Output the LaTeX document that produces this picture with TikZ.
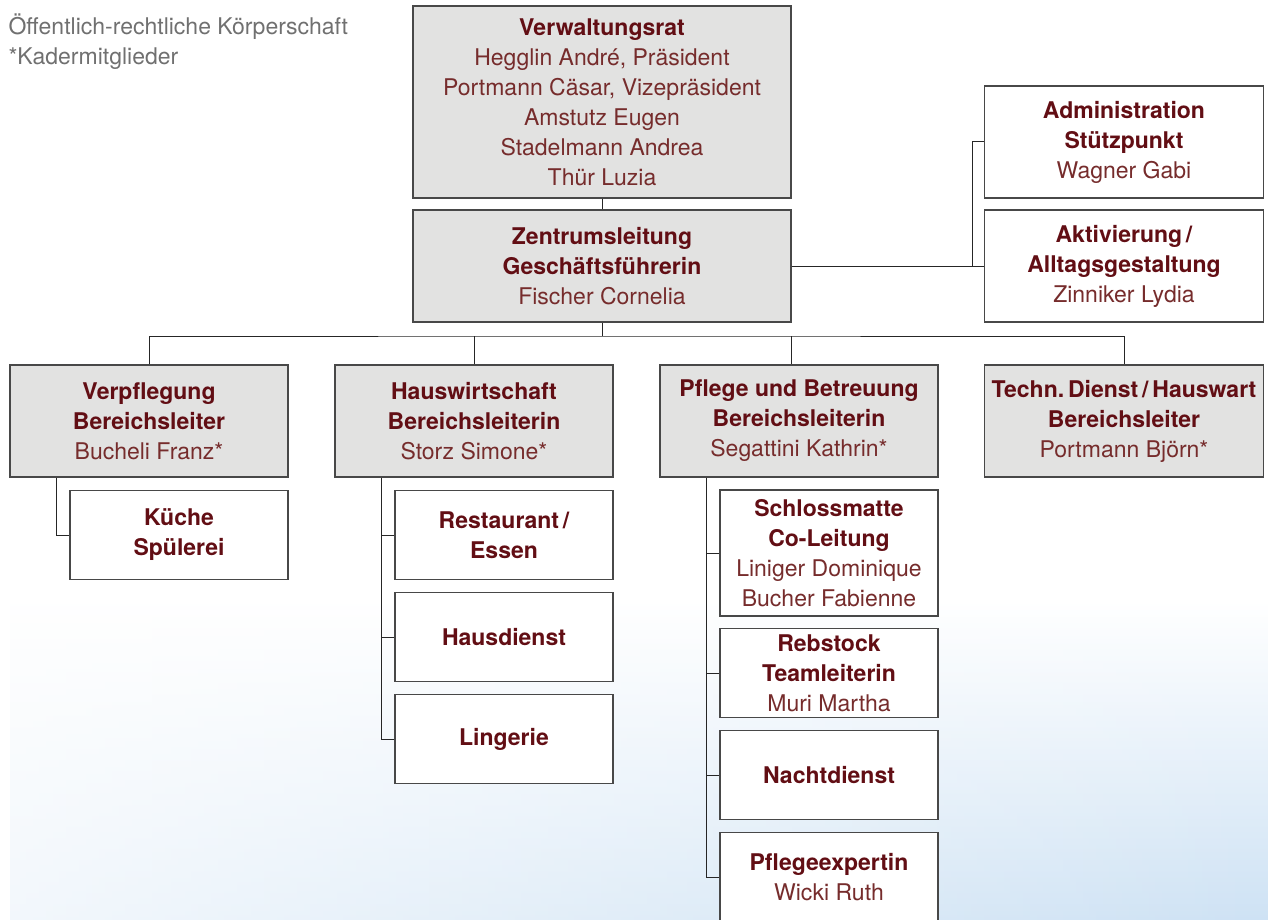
\documentclass[tikz,border=0pt]{standalone}
\usepackage{fontspec}
\setmainfont{TeX Gyre Heros}
\usetikzlibrary{calc,fadings}
\definecolor{ctitle}{RGB}{98,14,20}
\definecolor{cname}{RGB}{118,44,44}
\definecolor{cfill}{RGB}{226,226,225}
\definecolor{cline}{RGB}{72,72,72}
\definecolor{cnote}{RGB}{112,112,112}
\definecolor{cbg}{RGB}{206,226,244}
\newcommand{\orgtitle}[1]{{\bfseries\color{ctitle}#1}}
\tikzfading[name=leftwhite,left color=transparent!25,right color=transparent!100]

\begin{document}
\begin{tikzpicture}[x=1pt,y=-1pt,font=\fontsize{23}{30}\selectfont,
  box/.style={draw=cline,line width=1.2pt,inner sep=0pt,align=center,text=cname},
  graybox/.style={box,fill=cfill,minimum width=278pt,minimum height=112pt},
  whitebox/.style={box,fill=white,minimum width=218pt,minimum height=89pt},
  link/.style={line width=1pt,draw=black!85}]
  \useasboundingbox (0,0) rectangle (1268,920);
  % --- background ---
  \shade[top color=white,bottom color=cbg] (10,600) rectangle (1268,920);
  \fill[white,path fading=leftwhite] (10,600) rectangle (1268,920);
  % --- note ---
  \node[anchor=west,align=left,text=cnote] (nt) at (5,42)
     {Öffentlich-rechtliche Körperschaft\\*Kadermitglieder};
  % --- top ---
  \node[graybox,minimum width=378pt,minimum height=192pt] (vr) at (602,102)
     {\orgtitle{Verwaltungsrat}\\Hegglin André, Präsident\\Portmann Cäsar, Vizepräsident\\
      Amstutz Eugen\\Stadelmann Andrea\\Thür Luzia};
  \node[graybox,minimum width=378pt] (zl) at (602,266)
     {\orgtitle{Zentrumsleitung}\\\orgtitle{Geschäftsführerin}\\Fischer Cornelia};
  \node[graybox,fill=white,minimum width=279pt] (ad) at (1124,142)
     {\orgtitle{Administration}\\\orgtitle{Stützpunkt}\\Wagner Gabi};
  \node[graybox,fill=white,minimum width=279pt] (ak) at (1124,266)
     {\orgtitle{Aktivierung\,/}\\\orgtitle{Alltagsgestaltung}\\Zinniker Lydia};
  % --- departments ---
  \node[graybox] (vp) at (149,421)
     {\orgtitle{Verpflegung}\\\orgtitle{Bereichsleiter}\\Bucheli Franz*};
  \node[graybox] (hw) at (474,421)
     {\orgtitle{Hauswirtschaft}\\\orgtitle{Bereichsleiterin}\\Storz Simone*};
  \node[graybox] (pb) at (799,421)
     {\orgtitle{Pflege und Betreuung}\\\orgtitle{Bereichsleiterin}\\Segattini Kathrin*};
  \node[graybox,minimum width=279pt] (td) at (1124,421)
     {\orgtitle{Techn.\,Dienst\,/\,Hauswart}\\\orgtitle{Bereichsleiter}\\Portmann Björn*};
  % --- units ---
  \node[whitebox] (ku) at (179,535) {\orgtitle{Küche}\\\orgtitle{Spülerei}};
  \node[whitebox] (re) at (504,535) {\orgtitle{Restaurant\,/}\\\orgtitle{Essen}};
  \node[whitebox] (hd) at (504,637) {\orgtitle{Hausdienst}};
  \node[whitebox] (li) at (504,739) {\orgtitle{Lingerie}};
  \node[whitebox,minimum height=126pt] (sm) at (829,553)
     {\orgtitle{Schlossmatte}\\\orgtitle{Co-Leitung}\\Liniger Dominique\\Bucher Fabienne};
  \node[whitebox] (rs) at (829,673) {\orgtitle{Rebstock}\\\orgtitle{Teamleiterin}\\Muri Martha};
  \node[whitebox] (nd) at (829,775) {\orgtitle{Nachtdienst}};
  \node[whitebox] (pe) at (829,877) {\orgtitle{Pflegeexpertin}\\Wicki Ruth};
  % --- connectors ---
  \draw[link] (vr.south) -- (zl.north);
  \coordinate (rj) at (972,266);
  \draw[link] (zl.east) -- (ak.west);
  \draw[link] (ad.west) -| (rj);
  \coordinate (bus) at (602,336);
  \draw[link] (zl.south) -- (bus);
  \draw[link] (vp.north) |- (bus) -| (td.north);
  \draw[link] (hw.north) -- (hw.north |- bus);
  \draw[link] (zl.south east |- bus) -- (zl.south east |- pb.north);
  \draw[link] ([xshift=47pt]vp.south west) |- (ku.west);
  \coordinate (hwsp) at ([xshift=47pt]hw.south west);
  \draw[link] (hwsp) |- (li.west);
  \foreach \n in {re,hd} \draw[link] (\n.west) -- (\n.west -| hwsp);
  \coordinate (pbsp) at ([xshift=47pt]pb.south west);
  \draw[link] (pbsp) |- (pe.west);
  \foreach \n in {sm,rs,nd} \draw[link] (\n.west) -- (\n.west -| pbsp);
\end{tikzpicture}
\end{document}
